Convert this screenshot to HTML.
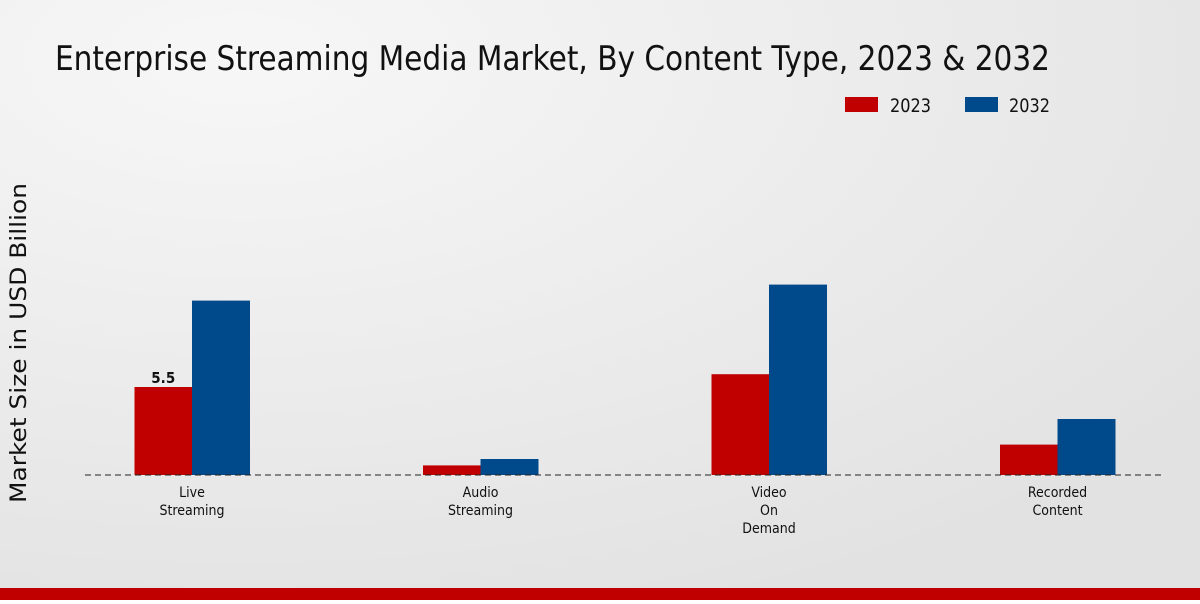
<!DOCTYPE html>
<html><head><meta charset="utf-8"><style>
body{margin:0;width:1200px;height:600px;overflow:hidden;font-family:"DejaVu Sans Condensed","Liberation Sans Narrow","Liberation Sans",sans-serif;}
</style></head><body>
<svg id="chart" width="1200" height="600" xmlns="http://www.w3.org/2000/svg">
<defs><radialGradient id="bg" cx="0.2" cy="0.1" r="1"><stop offset="0" stop-color="#f7f7f7"/><stop offset="1" stop-color="#e2e2e2"/></radialGradient></defs>
<rect width="1200" height="600" fill="url(#bg)"/>
<text x="55" y="70" font-size="34" fill="#111" textLength="995" lengthAdjust="spacingAndGlyphs">Enterprise Streaming Media Market, By Content Type, 2023 &amp; 2032</text>
<g>
<rect x="845" y="97" width="33" height="15" fill="#c00000"/>
<text x="890" y="112" font-size="19" fill="#111" textLength="41" lengthAdjust="spacingAndGlyphs">2023</text>
<rect x="965" y="97" width="33" height="15" fill="#004a8b"/>
<text x="1009" y="112" font-size="19" fill="#111" textLength="41" lengthAdjust="spacingAndGlyphs">2032</text>
</g>
<text transform="translate(26,343) rotate(-90)" text-anchor="middle" font-size="22" fill="#111" font-family="DejaVu Sans, sans-serif" textLength="320" lengthAdjust="spacingAndGlyphs">Market Size in USD Billion</text>
<g id="bars"></g>
<line x1="85" x2="1165" y1="475" y2="475" stroke="#222" stroke-dasharray="6,4"/>
<g id="labels"></g>
<rect x="0" y="588" width="1200" height="12" fill="#c00000"/>
</svg>
<script>
const categories=[["Live","Streaming"],["Audio","Streaming"],["Video","On","Demand"],["Recorded","Content"]];
const values2023=[5.5,0.6,6.3,1.9];
const values2032=[10.9,1.0,11.9,3.5];
const ns="http://www.w3.org/2000/svg";
const base=475, scale=16;
const xCenter=i=>192+i*288.5;
const yPos=v=>base-v*scale;
const bars=document.getElementById('bars'), labels=document.getElementById('labels');
function mk(t,a,p){const e=document.createElementNS(ns,t);for(const k in a)e.setAttribute(k,a[k]);p.appendChild(e);return e;}
categories.forEach((c,i)=>{
  const cx=xCenter(i);
  let r=mk('rect',{x:cx-57.5,y:yPos(values2023[i]),width:57.5,height:values2023[i]*scale,fill:'#c00000'},bars);
  
  
  r=mk('rect',{x:cx,y:yPos(values2032[i]),width:58,height:values2032[i]*scale,fill:'#004a8b'},bars);
  
  
  const t=mk('text',{x:cx,y:497,'text-anchor':'middle','font-size':14,fill:'#111'},labels);
  
  
  c.forEach((l,j)=>{const s=mk('tspan',{x:cx,dy:j?18:0},t);s.textContent=l;});
});
const v=mk('text',{x:xCenter(0)-28.75,y:yPos(values2023[0])-4,'text-anchor':'middle','font-size':15,'font-weight':'bold',fill:'#111'},labels);


v.textContent=values2023[0];
</script>
</body></html>
